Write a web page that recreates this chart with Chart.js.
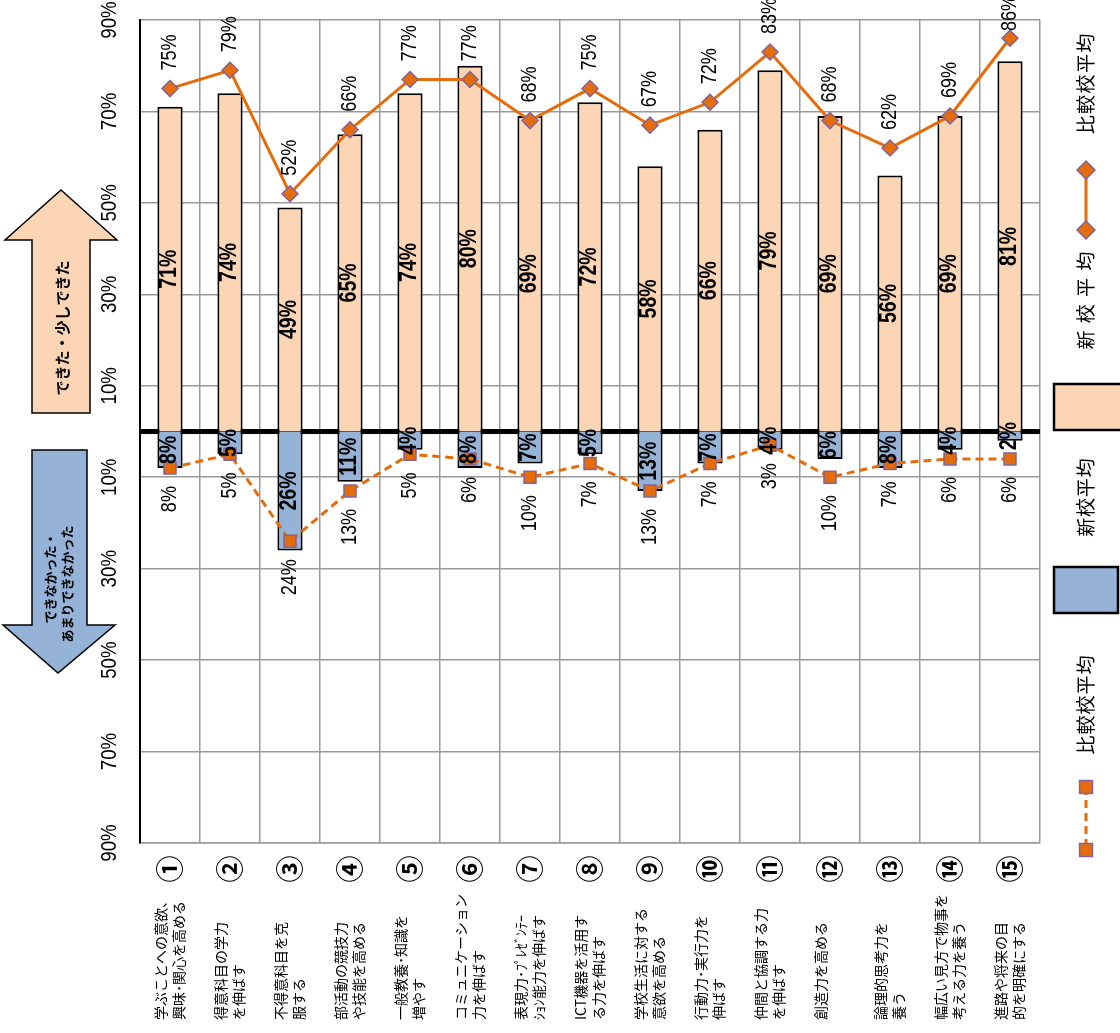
<!DOCTYPE html>
<html>
<head>
<meta charset="utf-8">
<script src="https://cdn.jsdelivr.net/npm/chart.js@4.4.0/dist/chart.umd.min.js"></script>
<style>
  html, body { margin: 0; padding: 0; background: #fff; }
  #wrap { width: 1120px; height: 1033px; position: relative; }
</style>
</head>
<body>
<div id="wrap"><canvas id="c"></canvas></div>
<script>
// データ
const circled = ['①','②','③','④','⑤','⑥','⑦','⑧','⑨','⑩','⑪','⑫','⑬','⑭','⑮'];
const categories = [
  ['学ぶことへの意欲、', '興味･関心を高める'],
  ['得意科目の学力', 'を伸ばす'],
  ['不得意科目を克', '服する'],
  ['部活動の競技力', 'や技能を高める'],
  ['一般教養･知識を', '増やす'],
  ['コミュニケーション', '力を伸ばす'],
  ['表現力･ﾌﾟﾚｾﾞﾝﾃｰ', 'ｼｮﾝ能力を伸ばす'],
  ['ICT機器を活用す', 'る力を伸ばす'],
  ['学校生活に対する', '意欲を高める'],
  ['行動力･実行力を', '伸ばす'],
  ['仲間と協調する力', 'を伸ばす'],
  ['創造力を高める'],
  ['論理的思考力を', '養う'],
  ['幅広い見方で物事を', '考える力を養う'],
  ['進路や将来の目', '的を明確にする']
];
// できた・少しできた
const newPos  = [71, 74, 49, 65, 74, 80, 69, 72, 58, 66, 79, 69, 56, 69, 81];
const compPos = [75, 79, 52, 66, 77, 77, 68, 75, 67, 72, 83, 68, 62, 69, 86];
// できなかった・あまりできなかった
const newNeg  = [8, 5, 26, 11, 4, 8, 7, 5, 13, 7, 4, 6, 8, 4, 2];
const compNeg = [8, 5, 24, 13, 5, 6, 10, 7, 13, 7, 3, 10, 7, 6, 6];
const yTicks = [-90, -70, -50, -30, -10, 10, 30, 50, 70, 90];

const PEACH = '#FCD5B4', BLUE = '#95B3D7', ORANGE = '#E46C0A', PURPLE = '#8064A2';
const NARROW = '"Liberation Sans Narrow", "Liberation Sans", Arial, sans-serif';
const JP = '"Noto Sans CJK JP", "Noto Sans", sans-serif';

// 縦書き（-90度回転）テキスト
function vtext(ctx, txt, x, y, font, align, sx) {
  ctx.save();
  ctx.translate(x, y);
  ctx.rotate(-Math.PI / 2);
  ctx.scale(sx || 1, 1);
  ctx.font = font;
  ctx.textAlign = align || 'center';
  ctx.textBaseline = 'middle';
  ctx.fillStyle = '#000';
  ctx.fillText(txt, 0, 0);
  ctx.restore();
}
// 文字を均等に並べる（下から上へ）
function vspaced(ctx, txt, x, yTop, yBot, font) {
  const chars = Array.from(txt);
  const pitch = (yBot - yTop) / chars.length;
  chars.forEach((ch, i) => vtext(ctx, ch, x, yBot - pitch * (i + 0.5), font, 'center'));
}
function marker(ctx, style, x, y, r) {
  ctx.save();
  ctx.fillStyle = ORANGE; ctx.strokeStyle = PURPLE; ctx.lineWidth = 1.5;
  ctx.beginPath();
  if (style === 'diamond') {
    ctx.moveTo(x, y - r); ctx.lineTo(x + r, y); ctx.lineTo(x, y + r); ctx.lineTo(x - r, y);
  } else {
    const s = r * 0.72;
    ctx.rect(x - s, y - s, 2 * s, 2 * s);
  }
  ctx.closePath(); ctx.fill(); ctx.stroke();
  ctx.restore();
}

const decorations = {
  id: 'decorations',
  beforeDatasetsDraw(chart) {
    const { ctx, chartArea, scales } = chart;
    const y0 = scales.y.getPixelForValue(0);
    ctx.save();
    ctx.strokeStyle = '#000'; ctx.lineWidth = 5;
    ctx.beginPath(); ctx.moveTo(chartArea.left, y0); ctx.lineTo(chartArea.right, y0); ctx.stroke();
    ctx.restore();
  },
  afterDatasetsDraw(chart) {
    const { ctx, scales } = chart;
    // 比較校（線）のラベル
    chart.getDatasetMeta(0).data.forEach((p, i) => {
      vtext(ctx, compPos[i] + '%', p.x, Math.max(p.y - 18, 31), '22px ' + NARROW, 'left', 0.82);
    });
    chart.getDatasetMeta(1).data.forEach((p, i) => {
      vtext(ctx, compNeg[i] + '%', p.x, p.y + 18, '22px ' + NARROW, 'right', 0.82);
    });
    // 新校（棒）のラベル
    chart.getDatasetMeta(2).data.forEach((b, i) => {
      vtext(ctx, newPos[i] + '%', b.x, (b.y + b.base) / 2, 'bold 23px ' + NARROW, 'center', 0.85);
    });
    chart.getDatasetMeta(3).data.forEach((b, i) => {
      vtext(ctx, newNeg[i] + '%', b.x, (b.y + b.base) / 2, 'bold 23px ' + NARROW, 'center', 0.85);
    });
    // 目盛りラベル
    yTicks.forEach(v => {
      vtext(ctx, Math.abs(v) + '%', 110, scales.y.getPixelForValue(v), '22px ' + NARROW, 'center', 0.85);
    });
    // 項目ラベル
    categories.forEach((lines, i) => {
      const cx = scales.x.getPixelForValue(i);
      vtext(ctx, circled[i], cx, 869, 'bold 27px ' + JP, 'center');
      lines.forEach((t, k) => {
        vtext(ctx, t, cx - 9 + k * 18, 1020, '14px ' + JP, 'left');
      });
    });
  },
  afterDraw(chart) {
    const { ctx } = chart;
    ctx.save();
    // 矢印
    ctx.lineWidth = 1.5; ctx.strokeStyle = '#000';
    ctx.fillStyle = PEACH;
    ctx.beginPath();
    [[61,190],[117,240],[90,240],[90,413],[32,413],[32,240],[5,240]].forEach((p, i) => i ? ctx.lineTo(p[0], p[1]) : ctx.moveTo(p[0], p[1]));
    ctx.closePath(); ctx.fill(); ctx.stroke();
    ctx.fillStyle = BLUE;
    ctx.beginPath();
    [[32,450],[87,450],[87,625],[115,625],[58,673],[3,625],[32,625]].forEach((p, i) => i ? ctx.lineTo(p[0], p[1]) : ctx.moveTo(p[0], p[1]));
    ctx.closePath(); ctx.fill(); ctx.stroke();
    ctx.restore();
    vtext(ctx, 'できた・少しできた', 62, 328, 'bold 15px ' + JP, 'center');
    vtext(ctx, 'できなかった・', 50, 578, 'bold 13px ' + JP, 'center');
    vtext(ctx, 'あまりできなかった', 67, 584, 'bold 13px ' + JP, 'center');

    // 凡例
    const lx = 1086;
    const lf = '19px ' + JP;
    vspaced(ctx, '比較校平均', lx, 33, 135, lf);
    ctx.save();
    ctx.strokeStyle = ORANGE; ctx.lineWidth = 3;
    ctx.beginPath(); ctx.moveTo(lx, 170); ctx.lineTo(lx, 230); ctx.stroke();
    ctx.restore();
    marker(ctx, 'diamond', lx, 170, 9);
    marker(ctx, 'diamond', lx, 230, 9);
    vspaced(ctx, '新校平均', lx, 248, 353, lf);
    ctx.save();
    ctx.lineWidth = 2.5; ctx.strokeStyle = '#000';
    ctx.fillStyle = PEACH;
    ctx.fillRect(1054, 384, 70, 46); ctx.strokeRect(1054, 384, 70, 46);
    ctx.restore();
    vspaced(ctx, '新校平均', lx, 458, 537, lf);
    ctx.save();
    ctx.lineWidth = 2.5; ctx.strokeStyle = '#000';
    ctx.fillStyle = BLUE;
    ctx.fillRect(1054, 567, 64, 46); ctx.strokeRect(1054, 567, 64, 46);
    ctx.restore();
    vspaced(ctx, '比較校平均', lx, 655, 755, lf);
    ctx.save();
    ctx.strokeStyle = ORANGE; ctx.lineWidth = 3; ctx.setLineDash([8, 5]);
    ctx.beginPath(); ctx.moveTo(lx, 787); ctx.lineTo(lx, 850); ctx.stroke();
    ctx.restore();
    marker(ctx, 'square', lx, 787, 9);
    marker(ctx, 'square', lx, 850, 9);
  }
};

new Chart(document.getElementById('c'), {
  type: 'bar',
  data: {
    labels: circled,
    datasets: [
      {
        type: 'line', label: '比較校平均', data: compPos, order: 0,
        borderColor: ORANGE, borderWidth: 3, tension: 0,
        pointStyle: 'rectRot', pointRadius: 8, pointBackgroundColor: ORANGE,
        pointBorderColor: PURPLE, pointBorderWidth: 1.5
      },
      {
        type: 'line', label: '比較校平均', data: compNeg.map(v => -v), order: 0,
        borderColor: ORANGE, borderWidth: 3, borderDash: [8, 5], tension: 0,
        pointStyle: 'rect', pointRadius: 8.5, pointBackgroundColor: ORANGE,
        pointBorderColor: PURPLE, pointBorderWidth: 1.5
      },
      {
        label: '新校平均', data: newPos, order: 1, grouped: false,
        backgroundColor: PEACH, borderColor: '#000', borderWidth: 2,
        barPercentage: 0.42, categoryPercentage: 1
      },
      {
        label: '新校平均', data: newNeg.map(v => -v), order: 1, grouped: false,
        backgroundColor: BLUE, borderColor: '#000', borderWidth: 2,
        barPercentage: 0.42, categoryPercentage: 1
      }
    ]
  },
  options: {
    responsive: true,
    maintainAspectRatio: false,
    animation: false,
    layout: { padding: { left: 140, right: 80, top: 20, bottom: 190 } },
    plugins: { legend: { display: false }, tooltip: { enabled: false } },
    scales: {
      x: {
        offset: true,
        ticks: { display: false },
        grid: { color: '#999', lineWidth: 1.5, drawTicks: false, offset: true },
        border: { color: '#999', width: 1.5 }
      },
      y: {
        min: -90, max: 90,
        afterBuildTicks: (scale) => { scale.ticks = yTicks.map(v => ({ value: v })); },
        ticks: { display: false },
        grid: { color: '#999', lineWidth: 1.5, drawTicks: false },
        border: { color: '#000', width: 2 }
      }
    }
  },
  plugins: [decorations]
});
</script>
</body>
</html>
